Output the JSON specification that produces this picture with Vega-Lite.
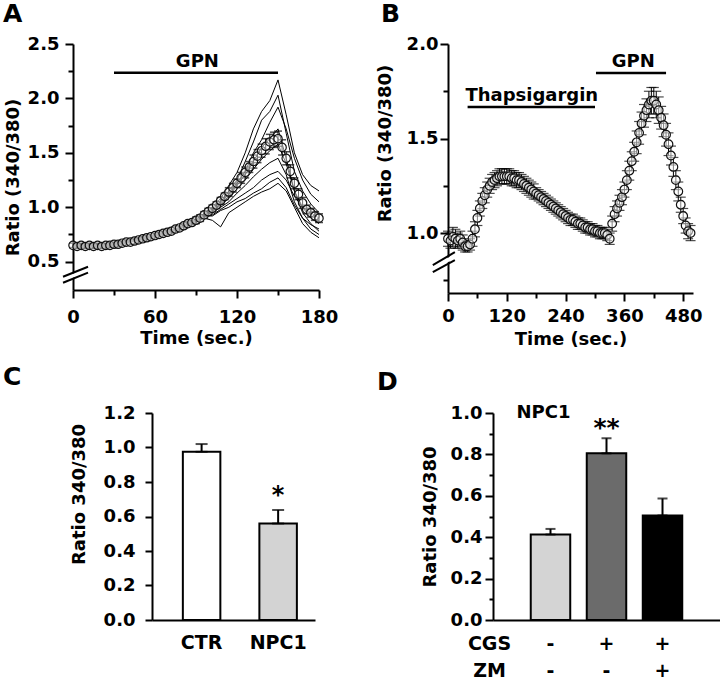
{
"$schema": "https://vega.github.io/schema/vega-lite/v6.json",
"padding": {"left": 3, "top": 2, "right": 0, "bottom": 0},
"bounds": "flush",
"spacing": 369,
"config": {
 "view": {"stroke": null},
 "font": "DejaVu Sans",
 "axis": {"domainColor": "black", "domainWidth": 2, "tickColor": "black", "tickWidth": 2, "labelColor": "black", "labelFont": "DejaVu Sans", "labelFontWeight": "bold", "labelFontSize": 18, "titleColor": "black", "titleFont": "DejaVu Sans", "titleFontWeight": "bold", "titleFontSize": 18, "grid": false, "labelOverlap": false, "labelFlush": false},
 "title": {"font": "DejaVu Sans", "fontWeight": "bold", "fontSize": 25, "color": "black", "anchor": "start", "frame": "group"}
},
"datasets": {
 "traces": [
{"k":1,"t":0,"v":0.66},{"k":1,"t":6,"v":0.62},{"k":1,"t":12,"v":0.67},{"k":1,"t":18,"v":0.65},{"k":1,"t":24,"v":0.64},{"k":1,"t":30,"v":0.67},{"k":1,"t":36,"v":0.66},{"k":1,"t":42,"v":0.70},{"k":1,"t":48,"v":0.71},{"k":1,"t":54,"v":0.71},{"k":1,"t":60,"v":0.75},{"k":1,"t":66,"v":0.77},{"k":1,"t":72,"v":0.77},{"k":1,"t":78,"v":0.82},{"k":1,"t":84,"v":0.85},{"k":1,"t":90,"v":0.87},{"k":1,"t":96,"v":0.95},{"k":1,"t":102,"v":1.0},{"k":1,"t":108,"v":1.08},{"k":1,"t":114,"v":1.2},{"k":1,"t":120,"v":1.32},{"k":1,"t":126,"v":1.5},{"k":1,"t":132,"v":1.72},{"k":1,"t":138,"v":1.88},{"k":1,"t":144,"v":1.98},{"k":1,"t":150,"v":2.17},{"k":1,"t":156,"v":1.85},{"k":1,"t":162,"v":1.5},{"k":1,"t":168,"v":1.3},{"k":1,"t":174,"v":1.2},{"k":1,"t":180,"v":1.15},
{"k":2,"t":0,"v":0.64},{"k":2,"t":6,"v":0.65},{"k":2,"t":12,"v":0.63},{"k":2,"t":18,"v":0.66},{"k":2,"t":24,"v":0.66},{"k":2,"t":30,"v":0.64},{"k":2,"t":36,"v":0.68},{"k":2,"t":42,"v":0.68},{"k":2,"t":48,"v":0.72},{"k":2,"t":54,"v":0.73},{"k":2,"t":60,"v":0.73},{"k":2,"t":66,"v":0.77},{"k":2,"t":72,"v":0.79},{"k":2,"t":78,"v":0.80},{"k":2,"t":84,"v":0.86},{"k":2,"t":90,"v":0.89},{"k":2,"t":96,"v":0.92},{"k":2,"t":102,"v":0.98},{"k":2,"t":108,"v":1.05},{"k":2,"t":114,"v":1.15},{"k":2,"t":120,"v":1.25},{"k":2,"t":126,"v":1.42},{"k":2,"t":132,"v":1.6},{"k":2,"t":138,"v":1.8},{"k":2,"t":144,"v":1.88},{"k":2,"t":150,"v":2.03},{"k":2,"t":156,"v":1.68},{"k":2,"t":162,"v":1.33},{"k":2,"t":168,"v":1.15},{"k":2,"t":174,"v":1.03},{"k":2,"t":180,"v":0.95},
{"k":3,"t":0,"v":0.67},{"k":3,"t":6,"v":0.64},{"k":3,"t":12,"v":0.66},{"k":3,"t":18,"v":0.63},{"k":3,"t":24,"v":0.66},{"k":3,"t":30,"v":0.65},{"k":3,"t":36,"v":0.67},{"k":3,"t":42,"v":0.70},{"k":3,"t":48,"v":0.69},{"k":3,"t":54,"v":0.73},{"k":3,"t":60,"v":0.74},{"k":3,"t":66,"v":0.75},{"k":3,"t":72,"v":0.79},{"k":3,"t":78,"v":0.81},{"k":3,"t":84,"v":0.83},{"k":3,"t":90,"v":0.89},{"k":3,"t":96,"v":0.94},{"k":3,"t":102,"v":0.99},{"k":3,"t":108,"v":1.04},{"k":3,"t":114,"v":1.12},{"k":3,"t":120,"v":1.22},{"k":3,"t":126,"v":1.33},{"k":3,"t":132,"v":1.5},{"k":3,"t":138,"v":1.62},{"k":3,"t":144,"v":1.78},{"k":3,"t":150,"v":1.92},{"k":3,"t":156,"v":1.72},{"k":3,"t":162,"v":1.45},{"k":3,"t":168,"v":1.25},{"k":3,"t":174,"v":1.12},{"k":3,"t":180,"v":1.05},
{"k":4,"t":0,"v":0.63},{"k":4,"t":6,"v":0.64},{"k":4,"t":12,"v":0.65},{"k":4,"t":18,"v":0.65},{"k":4,"t":24,"v":0.63},{"k":4,"t":30,"v":0.66},{"k":4,"t":36,"v":0.68},{"k":4,"t":42,"v":0.68},{"k":4,"t":48,"v":0.70},{"k":4,"t":54,"v":0.71},{"k":4,"t":60,"v":0.75},{"k":4,"t":66,"v":0.75},{"k":4,"t":72,"v":0.78},{"k":4,"t":78,"v":0.80},{"k":4,"t":84,"v":0.85},{"k":4,"t":90,"v":0.87},{"k":4,"t":96,"v":0.93},{"k":4,"t":102,"v":0.97},{"k":4,"t":108,"v":1.03},{"k":4,"t":114,"v":1.1},{"k":4,"t":120,"v":1.2},{"k":4,"t":126,"v":1.3},{"k":4,"t":132,"v":1.42},{"k":4,"t":138,"v":1.55},{"k":4,"t":144,"v":1.63},{"k":4,"t":150,"v":1.72},{"k":4,"t":156,"v":1.45},{"k":4,"t":162,"v":1.15},{"k":4,"t":168,"v":0.95},{"k":4,"t":174,"v":0.85},{"k":4,"t":180,"v":0.78},
{"k":5,"t":0,"v":0.65},{"k":5,"t":6,"v":0.66},{"k":5,"t":12,"v":0.64},{"k":5,"t":18,"v":0.63},{"k":5,"t":24,"v":0.66},{"k":5,"t":30,"v":0.67},{"k":5,"t":36,"v":0.66},{"k":5,"t":42,"v":0.69},{"k":5,"t":48,"v":0.71},{"k":5,"t":54,"v":0.72},{"k":5,"t":60,"v":0.73},{"k":5,"t":66,"v":0.77},{"k":5,"t":72,"v":0.77},{"k":5,"t":78,"v":0.82},{"k":5,"t":84,"v":0.83},{"k":5,"t":90,"v":0.88},{"k":5,"t":96,"v":0.92},{"k":5,"t":102,"v":0.96},{"k":5,"t":108,"v":1.02},{"k":5,"t":114,"v":1.08},{"k":5,"t":120,"v":1.17},{"k":5,"t":126,"v":1.25},{"k":5,"t":132,"v":1.35},{"k":5,"t":138,"v":1.44},{"k":5,"t":144,"v":1.52},{"k":5,"t":150,"v":1.58},{"k":5,"t":156,"v":1.4},{"k":5,"t":162,"v":1.15},{"k":5,"t":168,"v":1.0},{"k":5,"t":174,"v":0.9},{"k":5,"t":180,"v":0.85},
{"k":6,"t":0,"v":0.66},{"k":6,"t":6,"v":0.63},{"k":6,"t":12,"v":0.65},{"k":6,"t":18,"v":0.66},{"k":6,"t":24,"v":0.64},{"k":6,"t":30,"v":0.65},{"k":6,"t":36,"v":0.68},{"k":6,"t":42,"v":0.69},{"k":6,"t":48,"v":0.69},{"k":6,"t":54,"v":0.72},{"k":6,"t":60,"v":0.75},{"k":6,"t":66,"v":0.76},{"k":6,"t":72,"v":0.79},{"k":6,"t":78,"v":0.81},{"k":6,"t":84,"v":0.84},{"k":6,"t":90,"v":0.88},{"k":6,"t":96,"v":0.93},{"k":6,"t":102,"v":0.95},{"k":6,"t":108,"v":1.0},{"k":6,"t":114,"v":1.05},{"k":6,"t":120,"v":1.13},{"k":6,"t":126,"v":1.2},{"k":6,"t":132,"v":1.28},{"k":6,"t":138,"v":1.35},{"k":6,"t":144,"v":1.41},{"k":6,"t":150,"v":1.45},{"k":6,"t":156,"v":1.3},{"k":6,"t":162,"v":1.05},{"k":6,"t":168,"v":0.9},{"k":6,"t":174,"v":0.8},{"k":6,"t":180,"v":0.75},
{"k":7,"t":0,"v":0.64},{"k":7,"t":6,"v":0.62},{"k":7,"t":12,"v":0.66},{"k":7,"t":18,"v":0.64},{"k":7,"t":24,"v":0.65},{"k":7,"t":30,"v":0.66},{"k":7,"t":36,"v":0.66},{"k":7,"t":42,"v":0.68},{"k":7,"t":48,"v":0.70},{"k":7,"t":54,"v":0.71},{"k":7,"t":60,"v":0.74},{"k":7,"t":66,"v":0.75},{"k":7,"t":72,"v":0.78},{"k":7,"t":78,"v":0.80},{"k":7,"t":84,"v":0.84},{"k":7,"t":90,"v":0.86},{"k":7,"t":96,"v":0.91},{"k":7,"t":102,"v":0.93},{"k":7,"t":108,"v":0.98},{"k":7,"t":114,"v":1.03},{"k":7,"t":120,"v":1.08},{"k":7,"t":126,"v":1.13},{"k":7,"t":132,"v":1.18},{"k":7,"t":138,"v":1.25},{"k":7,"t":144,"v":1.3},{"k":7,"t":150,"v":1.33},{"k":7,"t":156,"v":1.25},{"k":7,"t":162,"v":1.1},{"k":7,"t":168,"v":1.0},{"k":7,"t":174,"v":0.95},{"k":7,"t":180,"v":0.9},
{"k":8,"t":0,"v":0.65},{"k":8,"t":6,"v":0.64},{"k":8,"t":12,"v":0.63},{"k":8,"t":18,"v":0.65},{"k":8,"t":24,"v":0.66},{"k":8,"t":30,"v":0.65},{"k":8,"t":36,"v":0.67},{"k":8,"t":42,"v":0.70},{"k":8,"t":48,"v":0.70},{"k":8,"t":54,"v":0.73},{"k":8,"t":60,"v":0.74},{"k":8,"t":66,"v":0.76},{"k":8,"t":72,"v":0.77},{"k":8,"t":78,"v":0.82},{"k":8,"t":84,"v":0.85},{"k":8,"t":90,"v":0.87},{"k":8,"t":96,"v":0.90},{"k":8,"t":102,"v":0.88},{"k":8,"t":108,"v":0.82},{"k":8,"t":114,"v":0.95},{"k":8,"t":120,"v":1.0},{"k":8,"t":126,"v":1.05},{"k":8,"t":132,"v":1.1},{"k":8,"t":138,"v":1.14},{"k":8,"t":144,"v":1.17},{"k":8,"t":150,"v":1.22},{"k":8,"t":156,"v":1.15},{"k":8,"t":162,"v":1.0},{"k":8,"t":168,"v":0.85},{"k":8,"t":174,"v":0.77},{"k":8,"t":180,"v":0.72},
{"k":9,"t":0,"v":0.66},{"k":9,"t":6,"v":0.65},{"k":9,"t":12,"v":0.65},{"k":9,"t":18,"v":0.64},{"k":9,"t":24,"v":0.65},{"k":9,"t":30,"v":0.67},{"k":9,"t":36,"v":0.68},{"k":9,"t":42,"v":0.69},{"k":9,"t":48,"v":0.71},{"k":9,"t":54,"v":0.72},{"k":9,"t":60,"v":0.74},{"k":9,"t":66,"v":0.77},{"k":9,"t":72,"v":0.78},{"k":9,"t":78,"v":0.81},{"k":9,"t":84,"v":0.83},{"k":9,"t":90,"v":0.88},{"k":9,"t":96,"v":0.92},{"k":9,"t":102,"v":0.92},{"k":9,"t":108,"v":0.97},{"k":9,"t":114,"v":1.0},{"k":9,"t":120,"v":1.05},{"k":9,"t":126,"v":1.08},{"k":9,"t":132,"v":1.13},{"k":9,"t":138,"v":1.17},{"k":9,"t":144,"v":1.23},{"k":9,"t":150,"v":1.27},{"k":9,"t":156,"v":1.18},{"k":9,"t":162,"v":1.02},{"k":9,"t":168,"v":0.9},{"k":9,"t":174,"v":0.84},{"k":9,"t":180,"v":0.8}
 ],
 "meanA": [
{"t":0,"v":0.65,"e":0.02},{"t":3,"v":0.64,"e":0.02},{"t":6,"v":0.65,"e":0.02},{"t":9,"v":0.64,"e":0.02},{"t":12,"v":0.65,"e":0.02},{"t":15,"v":0.64,"e":0.02},{"t":18,"v":0.65,"e":0.02},{"t":21,"v":0.64,"e":0.02},{"t":24,"v":0.65,"e":0.02},{"t":27,"v":0.65,"e":0.02},{"t":30,"v":0.66,"e":0.02},{"t":33,"v":0.66,"e":0.02},{"t":36,"v":0.67,"e":0.02},{"t":39,"v":0.68,"e":0.02},{"t":42,"v":0.68,"e":0.02},{"t":45,"v":0.69,"e":0.02},{"t":48,"v":0.7,"e":0.02},{"t":51,"v":0.71,"e":0.02},{"t":54,"v":0.72,"e":0.02},{"t":57,"v":0.73,"e":0.02},{"t":60,"v":0.74,"e":0.02},{"t":63,"v":0.75,"e":0.02},{"t":66,"v":0.76,"e":0.02},{"t":69,"v":0.77,"e":0.02},{"t":72,"v":0.78,"e":0.02},{"t":75,"v":0.8,"e":0.02},{"t":78,"v":0.81,"e":0.02},{"t":81,"v":0.83,"e":0.02},{"t":84,"v":0.85,"e":0.02},{"t":87,"v":0.86,"e":0.02},{"t":90,"v":0.88,"e":0.03},{"t":93,"v":0.9,"e":0.03},{"t":96,"v":0.93,"e":0.03},{"t":99,"v":0.96,"e":0.03},{"t":102,"v":0.99,"e":0.03},{"t":105,"v":1.02,"e":0.03},{"t":108,"v":1.06,"e":0.03},{"t":111,"v":1.1,"e":0.03},{"t":114,"v":1.14,"e":0.04},{"t":117,"v":1.18,"e":0.04},{"t":120,"v":1.22,"e":0.04},{"t":123,"v":1.27,"e":0.05},{"t":126,"v":1.32,"e":0.05},{"t":129,"v":1.37,"e":0.05},{"t":132,"v":1.42,"e":0.06},{"t":135,"v":1.47,"e":0.06},{"t":138,"v":1.52,"e":0.06},{"t":141,"v":1.56,"e":0.07},{"t":144,"v":1.6,"e":0.07},{"t":147,"v":1.62,"e":0.07},{"t":150,"v":1.63,"e":0.07},{"t":153,"v":1.55,"e":0.07},{"t":156,"v":1.45,"e":0.06},{"t":159,"v":1.33,"e":0.06},{"t":162,"v":1.22,"e":0.05},{"t":165,"v":1.12,"e":0.05},{"t":168,"v":1.04,"e":0.05},{"t":171,"v":0.98,"e":0.04},{"t":174,"v":0.95,"e":0.04},{"t":177,"v":0.92,"e":0.04},{"t":180,"v":0.9,"e":0.04}
 ],
 "meanB": [
{"t":0,"v":0.97,"e":0.04},{"t":5,"v":0.96,"e":0.04},{"t":10,"v":0.98,"e":0.05},{"t":15,"v":0.97,"e":0.05},{"t":20,"v":0.96,"e":0.04},{"t":25,"v":0.97,"e":0.04},{"t":30,"v":0.95,"e":0.04},{"t":35,"v":0.93,"e":0.03},{"t":40,"v":0.93,"e":0.03},{"t":45,"v":0.94,"e":0.03},{"t":50,"v":0.97,"e":0.04},{"t":55,"v":1.02,"e":0.04},{"t":60,"v":1.08,"e":0.04},{"t":65,"v":1.13,"e":0.04},{"t":70,"v":1.17,"e":0.04},{"t":75,"v":1.2,"e":0.04},{"t":80,"v":1.23,"e":0.04},{"t":85,"v":1.25,"e":0.04},{"t":90,"v":1.27,"e":0.04},{"t":95,"v":1.28,"e":0.04},{"t":100,"v":1.29,"e":0.04},{"t":105,"v":1.3,"e":0.04},{"t":110,"v":1.3,"e":0.04},{"t":115,"v":1.3,"e":0.04},{"t":120,"v":1.3,"e":0.04},{"t":125,"v":1.3,"e":0.04},{"t":130,"v":1.29,"e":0.04},{"t":135,"v":1.29,"e":0.04},{"t":140,"v":1.28,"e":0.04},{"t":145,"v":1.28,"e":0.04},{"t":150,"v":1.27,"e":0.04},{"t":155,"v":1.26,"e":0.04},{"t":160,"v":1.25,"e":0.04},{"t":165,"v":1.24,"e":0.04},{"t":170,"v":1.23,"e":0.04},{"t":175,"v":1.22,"e":0.04},{"t":180,"v":1.21,"e":0.03},{"t":185,"v":1.2,"e":0.03},{"t":190,"v":1.19,"e":0.03},{"t":195,"v":1.18,"e":0.03},{"t":200,"v":1.17,"e":0.03},{"t":205,"v":1.16,"e":0.03},{"t":210,"v":1.15,"e":0.03},{"t":215,"v":1.14,"e":0.03},{"t":220,"v":1.13,"e":0.03},{"t":225,"v":1.12,"e":0.03},{"t":230,"v":1.11,"e":0.03},{"t":235,"v":1.1,"e":0.03},{"t":240,"v":1.09,"e":0.03},{"t":245,"v":1.08,"e":0.03},{"t":250,"v":1.07,"e":0.03},{"t":255,"v":1.07,"e":0.03},{"t":260,"v":1.06,"e":0.03},{"t":265,"v":1.05,"e":0.03},{"t":270,"v":1.05,"e":0.03},{"t":275,"v":1.04,"e":0.03},{"t":280,"v":1.03,"e":0.03},{"t":285,"v":1.03,"e":0.03},{"t":290,"v":1.02,"e":0.03},{"t":295,"v":1.02,"e":0.03},{"t":300,"v":1.01,"e":0.03},{"t":305,"v":1.01,"e":0.03},{"t":310,"v":1.0,"e":0.03},{"t":315,"v":1.0,"e":0.03},{"t":320,"v":1.0,"e":0.03},{"t":325,"v":0.99,"e":0.03},{"t":330,"v":0.97,"e":0.03},{"t":335,"v":1.05,"e":0.04},{"t":340,"v":1.1,"e":0.04},{"t":345,"v":1.13,"e":0.04},{"t":350,"v":1.16,"e":0.04},{"t":355,"v":1.19,"e":0.04},{"t":360,"v":1.23,"e":0.04},{"t":365,"v":1.28,"e":0.05},{"t":370,"v":1.33,"e":0.05},{"t":375,"v":1.38,"e":0.05},{"t":380,"v":1.43,"e":0.05},{"t":385,"v":1.48,"e":0.06},{"t":390,"v":1.53,"e":0.06},{"t":395,"v":1.58,"e":0.06},{"t":400,"v":1.62,"e":0.06},{"t":405,"v":1.65,"e":0.06},{"t":410,"v":1.68,"e":0.07},{"t":415,"v":1.7,"e":0.07},{"t":420,"v":1.7,"e":0.07},{"t":425,"v":1.68,"e":0.07},{"t":430,"v":1.65,"e":0.07},{"t":435,"v":1.61,"e":0.06},{"t":440,"v":1.57,"e":0.06},{"t":445,"v":1.52,"e":0.06},{"t":450,"v":1.47,"e":0.06},{"t":455,"v":1.41,"e":0.05},{"t":460,"v":1.35,"e":0.05},{"t":465,"v":1.28,"e":0.05},{"t":470,"v":1.22,"e":0.05},{"t":475,"v":1.15,"e":0.04},{"t":480,"v":1.09,"e":0.04},{"t":485,"v":1.04,"e":0.04},{"t":490,"v":1.01,"e":0.04},{"t":495,"v":1.0,"e":0.04}
 ]
},
"vconcat": [
 {
  "bounds": "flush",
  "spacing": 0,
  "hconcat": [
   {
    "width": 246, "height": 246,
    "title": {"text": "A", "dx": -70, "offset": 8},
    "encoding": {
     "x": {"field": "t", "type": "quantitative", "scale": {"domain": [0, 180], "nice": false, "zero": false},
           "axis": {"title": "Time (sec.)", "values": [0,30,60,90,120,150,180], "labelExpr": "datum.value % 60 === 0 ? datum.label : ''", "tickSize": {"condition": {"test": "datum.value % 60 === 0", "value": 8}, "value": 5}, "labelPadding": 10, "titlePadding": 3}},
     "y": {"field": "v", "type": "quantitative", "scale": {"domain": [0.24, 2.5], "nice": false, "zero": false},
           "axis": {"title": "Ratio (340/380)", "values": [0.5,0.75,1,1.25,1.5,1.75,2,2.25,2.5], "labelExpr": "abs(datum.value*2 - round(datum.value*2)) < 0.001 ? format(datum.value, '.1f') : ''", "tickSize": {"condition": {"test": "abs(datum.value*2 - round(datum.value*2)) < 0.001", "value": 8}, "value": 5}, "labelPadding": 6, "titlePadding": 5, "titleY": 133}}
    },
    "layer": [
     {"data": {"name": "traces"}, "mark": {"type": "line", "color": "black", "strokeWidth": 1}, "encoding": {"detail": {"field": "k", "type": "nominal"}}},
     {"data": {"name": "meanA"}, "mark": {"type": "errorbar", "color": "black", "thickness": 1, "ticks": {"size": 8, "thickness": 1.5}}, "encoding": {"yError": {"field": "e"}}},
     {"data": {"name": "meanA"}, "mark": {"type": "point", "shape": "circle", "filled": true, "fill": "white", "fillOpacity": 0.45, "stroke": "#111", "strokeWidth": 1.2, "size": 70, "opacity": 1}},
     {"data": {"values": [{"t": 30, "t2": 150, "v": 2.235}]}, "mark": {"type": "rule", "color": "black", "strokeWidth": 2.5}, "encoding": {"x2": {"field": "t2"}}},
     {"data": {"values": [{"t": 91, "v": 2.29, "s": "GPN"}]}, "mark": {"type": "text", "font": "DejaVu Sans", "fontWeight": "bold", "fontSize": 18, "baseline": "alphabetic", "color": "black"}, "encoding": {"text": {"field": "s"}}},
     {"data": {"values": [{"t": -7.3, "v": 0.334, "t2": 11, "v2": 0.426}]}, "mark": {"type": "rule", "color": "white", "strokeWidth": 4}, "encoding": {"x2": {"field": "t2"}, "y2": {"field": "v2"}}},
     {"data": {"values": [{"t": -7.3, "v": 0.307, "t2": 11, "v2": 0.399}, {"t": -7.3, "v": 0.362, "t2": 11, "v2": 0.454}]}, "mark": {"type": "rule", "color": "black", "strokeWidth": 2}, "encoding": {"x2": {"field": "t2"}, "y2": {"field": "v2"}}}
    ]
   },
   {"width": 129, "height": 1, "data": {"values": [{}]}, "mark": {"type": "point", "opacity": 0}, "encoding": {}},
   {
    "width": 245, "height": 249,
    "title": {"text": "B", "dx": -67, "offset": 8},
    "encoding": {
     "x": {"field": "t", "type": "quantitative", "scale": {"domain": [0, 500], "nice": false, "zero": false},
           "axis": {"title": "Time (sec.)", "values": [0,60,120,180,240,300,360,420,480], "labelExpr": "datum.value % 120 === 0 ? datum.label : ''", "tickSize": {"condition": {"test": "datum.value % 120 === 0", "value": 8}, "value": 5}, "labelPadding": 6, "titlePadding": 5}},
     "y": {"field": "v", "type": "quantitative", "scale": {"domain": [0.683, 2.0], "nice": false, "zero": false},
           "axis": {"title": "Ratio (340/380)", "values": [0.75,1,1.25,1.5,1.75,2], "labelExpr": "abs(datum.value*2 - round(datum.value*2)) < 0.001 ? format(datum.value, '.1f') : ''", "tickSize": {"condition": {"test": "abs(datum.value*2 - round(datum.value*2)) < 0.001", "value": 8}, "value": 5}, "labelPadding": 2, "titlePadding": 12, "titleY": 99}}
    },
    "layer": [
     {"data": {"name": "meanB"}, "mark": {"type": "errorbar", "color": "black", "thickness": 1, "ticks": {"size": 10, "thickness": 1.2}}, "encoding": {"yError": {"field": "e"}}},
     {"data": {"name": "meanB"}, "mark": {"type": "point", "shape": "circle", "filled": true, "fill": "white", "fillOpacity": 0.5, "stroke": "#111", "strokeWidth": 1.2, "size": 75, "opacity": 1}},
     {"data": {"values": [{"t": 40, "t2": 300, "v": 1.667}, {"t": 302, "t2": 445, "v": 1.847}]}, "mark": {"type": "rule", "color": "black", "strokeWidth": 2.5}, "encoding": {"x2": {"field": "t2"}}},
     {"data": {"values": [{"t": 171, "v": 1.70, "s": "Thapsigargin"}, {"t": 378, "v": 1.88, "s": "GPN"}]}, "mark": {"type": "text", "font": "DejaVu Sans", "fontWeight": "bold", "fontSize": 18, "baseline": "alphabetic", "color": "black"}, "encoding": {"text": {"field": "s"}}},
     {"data": {"values": [{"t": -31, "v": 0.812, "t2": 14, "v2": 0.878}]}, "mark": {"type": "rule", "color": "white", "strokeWidth": 4}, "encoding": {"x2": {"field": "t2"}, "y2": {"field": "v2"}}},
     {"data": {"values": [{"t": -31, "v": 0.794, "t2": 14, "v2": 0.857}, {"t": -31, "v": 0.831, "t2": 14, "v2": 0.899}]}, "mark": {"type": "rule", "color": "black", "strokeWidth": 2}, "encoding": {"x2": {"field": "t2"}, "y2": {"field": "v2"}}}
    ]
   }
  ]
 },
 {
  "bounds": "flush",
  "spacing": 0,
  "resolve": {"scale": {"color": "independent"}},
  "hconcat": [
   {"width": 79, "height": 1, "data": {"values": [{}]}, "mark": {"type": "point", "opacity": 0}, "encoding": {}},
   {
    "width": 163, "height": 207,
    "title": {"text": "C", "dx": -149, "offset": 14},
    "data": {"values": [{"g": "CTR", "v": 0.975, "hi": 1.02}, {"g": "NPC1", "v": 0.56, "hi": 0.638}]},
    "encoding": {
     "x": {"field": "g", "type": "nominal", "sort": null, "scale": {"domain": ["CTR", "NPC1"], "paddingInner": 0.51, "paddingOuter": 0.32, "align": 0.63},
           "axis": {"title": null, "labelAngle": 0, "ticks": false, "tickSize": 0, "labelPadding": 13, "labelFontSize": 19}},
     "y": {"field": "v", "type": "quantitative", "scale": {"domain": [0, 1.2], "nice": false},
           "axis": {"title": "Ratio 340/380", "values": [0,0.2,0.4,0.6,0.8,1.0,1.2], "format": ".1f", "tickSize": 7, "labelPadding": 10, "titlePadding": 15, "titleY": 81}}
    },
    "layer": [
     {"mark": {"type": "bar", "stroke": "black", "strokeWidth": 2}, "encoding": {"color": {"field": "g", "type": "nominal", "scale": {"domain": ["CTR", "NPC1"], "range": ["#ffffff", "#d3d3d3"]}, "legend": null}}},
     {"mark": {"type": "errorbar", "color": "black", "thickness": 2, "ticks": {"size": 12, "thickness": 2}}, "encoding": {"y2": {"field": "hi"}}},
     {"data": {"values": [{"g": "NPC1", "v": 0.678, "s": "*"}]}, "mark": {"type": "text", "font": "DejaVu Sans", "fontWeight": "bold", "fontSize": 24, "baseline": "alphabetic", "color": "black"}, "encoding": {"text": {"field": "s"}}}
    ]
   },
   {"width": 178, "height": 1, "data": {"values": [{}]}, "mark": {"type": "point", "opacity": 0}, "encoding": {}},
   {
    "width": 227, "height": 207,
    "title": {"text": "D", "dx": -116, "offset": 9},
    "data": {"values": [{"g": "ctrl", "v": 0.413, "hi": 0.44}, {"g": "CGS", "v": 0.805, "hi": 0.878}, {"g": "CGS+ZM", "v": 0.505, "hi": 0.587}]},
    "encoding": {
     "x": {"field": "g", "type": "nominal", "sort": null, "scale": {"domain": ["ctrl", "CGS", "CGS+ZM"], "paddingInner": 0.295, "paddingOuter": 0.674, "align": 0.5},
           "axis": {"title": ["CGS", "ZM"], "titleAngle": 0, "titleAlign": "center", "titleBaseline": "top", "titleX": -4, "titleY": 14, "titleLineHeight": 27, "titleFontSize": 19, "labelAngle": 0, "ticks": false, "tickSize": 0, "labelPadding": 14, "labelLineHeight": 27, "labelFontSize": 19,
                    "labelExpr": "datum.value === 'ctrl' ? ['-', '-'] : datum.value === 'CGS' ? ['+', '-'] : ['+', '+']"}},
     "y": {"field": "v", "type": "quantitative", "scale": {"domain": [0, 1], "nice": false},
           "axis": {"title": "Ratio 340/380", "values": [0,0.1,0.2,0.3,0.4,0.5,0.6,0.7,0.8,0.9,1.0], "labelExpr": "abs(datum.value*5 - round(datum.value*5)) < 0.001 ? format(datum.value, '.1f') : ''", "tickSize": {"condition": {"test": "abs(datum.value*5 - round(datum.value*5)) < 0.001", "value": 8}, "value": 4}, "labelPadding": 3, "titlePadding": 11}}
    },
    "layer": [
     {"mark": {"type": "bar", "stroke": "black", "strokeWidth": 2}, "encoding": {"color": {"field": "g", "type": "nominal", "scale": {"domain": ["ctrl", "CGS", "CGS+ZM"], "range": ["#d4d4d4", "#6b6b6b", "#000000"]}, "legend": null}}},
     {"mark": {"type": "errorbar", "color": "black", "thickness": 2, "ticks": {"size": 10, "thickness": 2}}, "encoding": {"y2": {"field": "hi"}}},
     {"data": {"values": [{"g": "ctrl", "v": 1.0, "s": "NPC1"}]}, "mark": {"type": "text", "font": "DejaVu Sans", "fontWeight": "bold", "fontSize": 18, "baseline": "middle", "dx": -7, "color": "black"}, "encoding": {"text": {"field": "s"}}},
     {"data": {"values": [{"g": "CGS", "v": 0.888, "s": "**"}]}, "mark": {"type": "text", "font": "DejaVu Sans", "fontWeight": "bold", "fontSize": 25, "baseline": "alphabetic", "color": "black"}, "encoding": {"text": {"field": "s"}}}
    ]
   }
  ]
 }
]
}
